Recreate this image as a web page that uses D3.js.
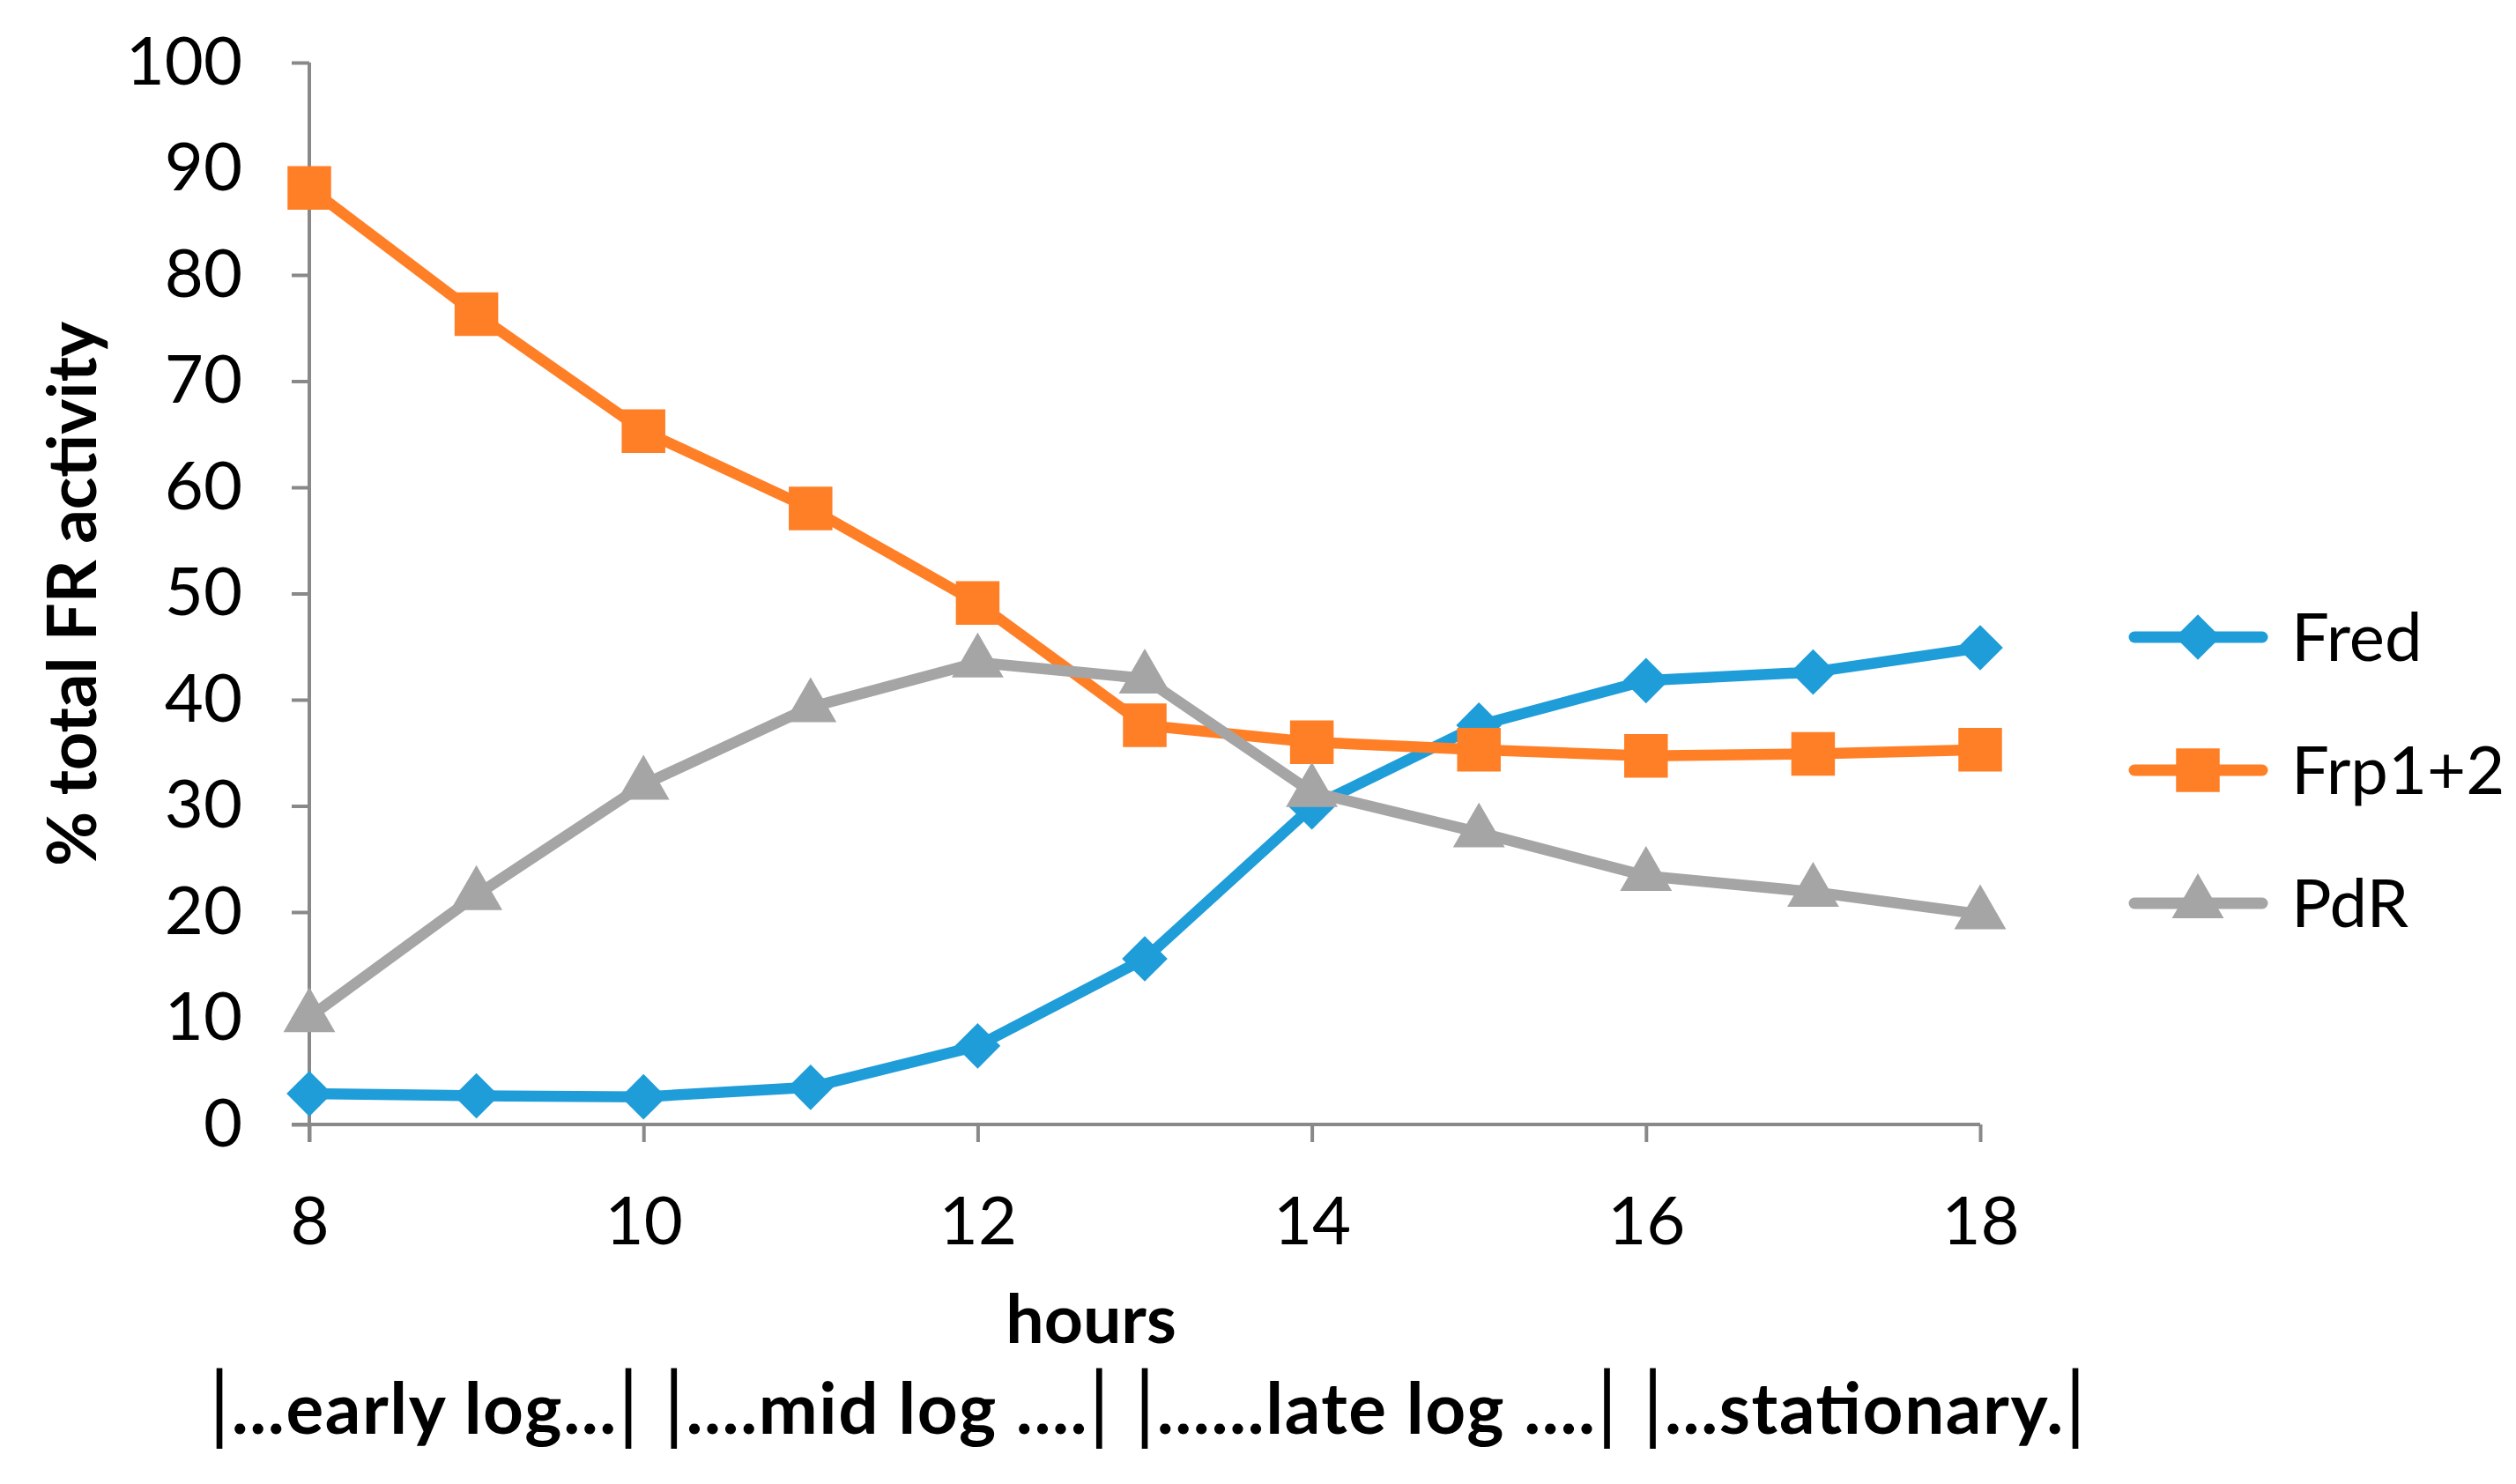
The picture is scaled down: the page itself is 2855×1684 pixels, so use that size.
<!DOCTYPE html>
<html><head><meta charset="utf-8">
<script src="https://cdn.jsdelivr.net/npm/d3@7"></script>
<style>body{margin:0;background:#fff}svg{display:block}text{font-family:Lato,"Open Sans",sans-serif}</style>
</head><body><svg id="c" width="2855" height="1684"></svg>
<script>
const hours = [8,9,10,11,12,13,14,15,16,17,18];
const fred = [2.9,2.7,2.6,3.5,7.4,15.6,29.9,37.6,41.8,42.6,44.9];
const frp = [88.2,76.3,65.3,58.0,49.1,37.6,36.0,35.3,34.7,34.9,35.3];
const pdr = [10.1,21.6,32.0,39.3,43.5,42.0,31.3,27.5,23.4,21.9,19.8];
const seriesNames = ["Fred","Frp1+2","PdR"];
const yTicks = [0,10,20,30,40,50,60,70,80,90,100];
const xTicks = [8,10,12,14,16,18];
const xTitle = "hours";
const yTitle = "% total FR activity";
const phases = ["...early log...","....mid log ....","......late log ....","...stationary."];

const colors = ["#1F9DD9","#FF7F27","#A5A5A5"];
const symbols = [d3.symbolDiamond2, d3.symbolSquare, d3.symbolTriangle];
const svg = d3.select("#c");
svg.append("rect").attr("width",2855).attr("height",1684).attr("fill","#fff");

const x = d3.scaleLinear().domain([8,18]).range([351,2247]);
const y = d3.scaleLinear().domain([0,100]).range([1276,71]);
const axisColor = "#898989";

const gy = svg.append("g").attr("transform",`translate(${x(8)},0)`)
  .call(d3.axisLeft(y).tickValues(yTicks).tickSize(20).tickPadding(56));
const gx = svg.append("g").attr("transform",`translate(0,${y(0)})`)
  .call(d3.axisBottom(x).tickValues(xTicks).tickSize(20).tickPadding(62));
[gy,gx].forEach(g=>{
  g.select(".domain").attr("stroke",axisColor).attr("stroke-width",4);
  g.selectAll(".tick line").attr("stroke",axisColor).attr("stroke-width",4);
  g.selectAll(".tick text").attr("fill","#000").attr("font-size",76).attr("font-family","Lato");
});
gx.select(".domain").attr("d",`M${x(8)-20},0H${x(18)}`);
gy.select(".domain").attr("d",`M0,${y(100)}V${y(0)+20}`);

const all = [fred,frp,pdr];
const line = d3.line().x((d,i)=>x(hours[i])).y(d=>y(d));
all.forEach((s,k)=>{
  svg.append("path").datum(s).attr("d",line).attr("fill","none")
    .attr("stroke",colors[k]).attr("stroke-width",12.5).attr("stroke-linejoin","round");
});
const symSize = [1700,2450,1500];
all.forEach((s,k)=>{
  svg.append("g").selectAll("path").data(s).join("path")
    .attr("transform",(d,i)=>`translate(${x(hours[i])},${y(d)})`)
    .attr("d",d3.symbol(symbols[k],symSize[k]))
    .attr("fill",colors[k]);
});

// legend
const ly = [723,874,1025];
seriesNames.forEach((n,k)=>{
  const g = svg.append("g").attr("transform",`translate(0,${ly[k]})`);
  g.append("line").attr("x1",2422).attr("x2",2567).attr("y1",0).attr("y2",0)
    .attr("stroke",colors[k]).attr("stroke-width",13).attr("stroke-linecap","round");
  g.append("path").attr("transform",`translate(2494,0)`).attr("d",d3.symbol(symbols[k],symSize[k])).attr("fill",colors[k]);
  g.append("text").attr("x",2600).attr("y",0).attr("dy","0.35em").attr("font-size",76).text(n);
});

svg.append("text").attr("x",1238).attr("y",1497).attr("dy","0.35em").attr("text-anchor","middle")
  .attr("font-size",77).attr("font-weight","bold").text(xTitle);
svg.append("text").attr("transform","translate(82,674) rotate(-90)").attr("dy","0.35em").attr("text-anchor","middle")
  .attr("font-size",76).attr("font-weight","bold").text(yTitle);

const pt = svg.append("text").attr("x",237).attr("y",1627)
  .attr("font-size",80).attr("font-weight","bold")
  .attr("textLength",2130).attr("lengthAdjust","spacing");
phases.forEach((p,i)=>{
  pt.append("tspan").attr("font-weight","normal").attr("font-size",96).text(i===0?"|":" |");
  pt.append("tspan").text(p);
  pt.append("tspan").attr("font-weight","normal").attr("font-size",96).text("|");
});
</script></body></html>
